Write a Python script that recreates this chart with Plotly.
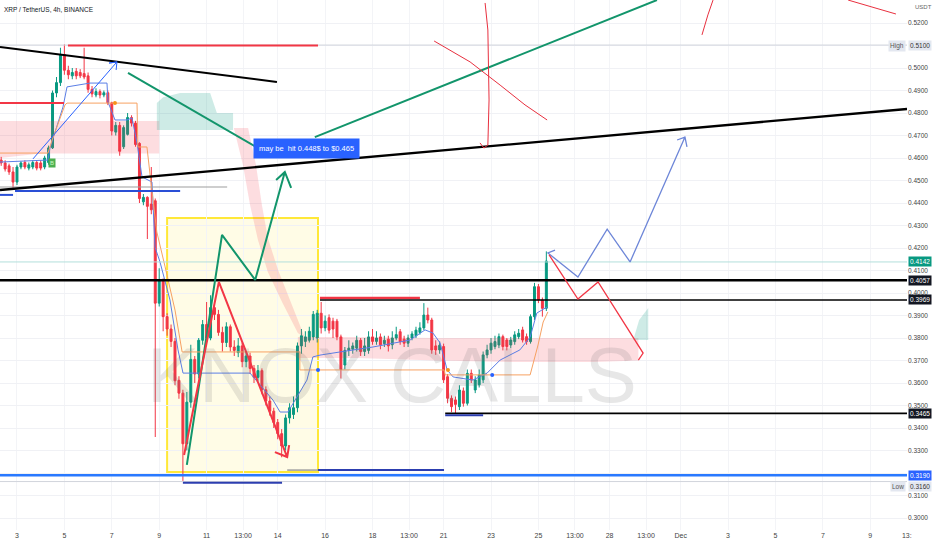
import plotly.graph_objects as go

# ---------------- candle data (4h candles, index 0 = Nov 2 08:00) ----------------
opens = [
    .4591, .4578, .4565, .4538, .4493, .4560, .4580, .4555, .4560, .4580,
    .4578, .4560, .4580, .4645, .4889, .4935, .5060, .4990, .4965, .4985,
    .4980, .4975, .4965, .4905, .4880, .4895, .4880, .4890, .4845, .4715,
    .4745, .4650, .4705, .4780, .4755, .4665, .4405, .4425, .4395, .4410,
    .3955, .4055, .3895, .3840, .3785, .3612, .3555, .3330, .3515, .3705,
    .3640, .3790, .3860, .3800, .3935, .3905, .3825, .3780, .3850, .3760,
    .3735, .3765, .3695, .3720, .3665, .3625, .3655, .3570, .3520, .3475,
    .3425, .3375, .3320, .3445, .3460, .3490, .3765, .3785, .3790, .3805,
    .3800, .3910, .3845, .3890, .3875, .3875, .3805, .3680, .3745, .3750,
    .3755, .3790, .3740, .3745, .3805, .3785, .3805, .3775, .3795, .3770,
    .3800, .3828, .3795, .3777, .3800, .3810, .3825, .3845, .3902, .3880,
    .3765, .3747, .3762, .3628, .3532, .3525, .3495, .3565, .3510, .3643,
    .3569, .3592, .3614, .3725, .3747, .3762, .3769, .3806, .3791, .3769,
    .3784, .3806, .3836, .3806, .3784, .3895, .4028, .3969, .3932]
highs = [
    .4605, .4590, .4575, .4560, .4570, .4585, .4590, .4580, .4590, .4590,
    .4590, .4610, .4655, .4900, .4960, .5090, .5105, .5010, .5000, .5000,
    .4995, .5090, .4980, .4920, .4910, .4905, .4900, .4900, .4850, .4760,
    .4760, .4745, .4800, .4790, .4765, .4670, .4440, .4430, .4560, .4420,
    .4110, .4065, .3910, .3860, .3800, .3630, .3570, .3560, .3770, .3720,
    .3800, .3880, .3960, .3990, .3950, .3925, .3850, .3870, .3860, .3790,
    .3800, .3780, .3740, .3735, .3680, .3680, .3665, .3585, .3540, .3490,
    .3440, .3395, .3460, .3510, .3540, .3780, .3840, .3830, .3850, .3920,
    .3925, .3960, .3900, .3905, .3890, .3885, .3815, .3760, .3790, .3780,
    .3810, .3800, .3800, .3830, .3840, .3830, .3820, .3810, .3810, .3830,
    .3850, .3840, .3810, .3815, .3830, .3850, .3870, .3955, .3935, .3890,
    .3790, .3785, .3775, .3640, .3545, .3540, .3590, .3580, .3660, .3660,
    .3630, .3660, .3740, .3770, .3800, .3810, .3820, .3815, .3800, .3805,
    .3830, .3840, .3850, .3820, .3905, .4045, .4040, .3980, .4185]
lows = [
    .4565, .4540, .4525, .4467, .4480, .4550, .4550, .4545, .4550, .4545,
    .4545, .4550, .4570, .4640, .4870, .4920, .4970, .4950, .4950, .4950,
    .4955, .4950, .4890, .4870, .4870, .4865, .4870, .4835, .4700, .4700,
    .4610, .4640, .4700, .4740, .4650, .4400, .4390, .4240, .4350, .3360,
    .3940, .3830, .3810, .3760, .3590, .3530, .3165, .3300, .3490, .3600,
    .3620, .3770, .3790, .3790, .3880, .3810, .3740, .3760, .3740, .3720,
    .3715, .3670, .3670, .3640, .3600, .3610, .3550, .3500, .3455, .3400,
    .3350, .3270, .3300, .3420, .3440, .3470, .3730, .3760, .3780, .3790,
    .3780, .3820, .3830, .3820, .3800, .3790, .3620, .3660, .3720, .3730,
    .3740, .3720, .3720, .3730, .3770, .3770, .3750, .3760, .3740, .3750,
    .3790, .3770, .3760, .3760, .3790, .3800, .3815, .3835, .3865, .3730,
    .3725, .3730, .3600, .3510, .3470, .3465, .3480, .3495, .3500, .3600,
    .3555, .3580, .3600, .3710, .3730, .3750, .3755, .3745, .3745, .3755,
    .3770, .3795, .3780, .3770, .3775, .3880, .3955, .3895, .3920]
closes = [
    .4578, .4551, .4538, .4493, .4560, .4578, .4560, .4570, .4580, .4555,
    .4555, .4600, .4645, .4889, .4935, .5060, .4990, .4970, .4980, .4965,
    .4965, .4960, .4905, .4885, .4895, .4880, .4890, .4845, .4720, .4745,
    .4630, .4735, .4780, .4755, .4660, .4420, .4425, .4385, .4370, .3955,
    .4055, .3895, .3840, .3785, .3610, .3555, .3330, .3515, .3705, .3640,
    .3790, .3860, .3800, .3935, .3905, .3825, .3780, .3850, .3760, .3745,
    .3765, .3695, .3720, .3665, .3625, .3655, .3570, .3520, .3475, .3425,
    .3375, .3320, .3445, .3490, .3490, .3765, .3810, .3805, .3830, .3905,
    .3910, .3845, .3875, .3835, .3840, .3805, .3660, .3745, .3755, .3765,
    .3790, .3740, .3765, .3805, .3785, .3800, .3770, .3790, .3765, .3800,
    .3815, .3784, .3777, .3800, .3818, .3835, .3845, .3902, .3880, .3747,
    .3747, .3768, .3614, .3532, .3495, .3505, .3569, .3510, .3643, .3614,
    .3614, .3636, .3725, .3747, .3777, .3784, .3806, .3762, .3762, .3791,
    .3814, .3821, .3791, .3784, .3895, .4028, .3969, .3932, .4142]
candle_idx = list(range(len(opens)))

# ---------------- axis ticks ----------------
time_tick_pos = [4, 16, 28, 40, 52, 61.25, 70, 82, 94, 103.25, 112, 124, 136,
                 145.25, 154, 163.25, 172, 184, 196, 208, 220, 229.25]
time_tick_text = ["3", "5", "7", "9", "11", "13:00", "14", "16", "18", "13:00", "21",
                  "23", "25", "13:00", "28", "13:00", "Dec", "3", "5", "7", "9", "13:"]
price_ticks = [0.30, 0.31, 0.32, 0.33, 0.34, 0.35, 0.36, 0.37, 0.38, 0.39, 0.40, 0.41,
               0.42, 0.43, 0.44, 0.45, 0.46, 0.47, 0.48, 0.49, 0.50, 0.51, 0.52]
price_tick_text = ["0.3000", "0.3100", "", "0.3300", "0.3400", "0.3500", "0.3600",
                   "0.3700", "0.3800", "0.3900", "0.4000", "0.4100", "0.4200", "0.4300",
                   "0.4400", "0.4500", "0.4600", "0.4700", "0.4800", "0.4900", "0.5000",
                   "", "0.5200"]

# ---------------- ichimoku-like lines ----------------
conv_idx = [-0.3, 11.85, 12.35, 15.65, 16.66, 22.48, 26.78, 27.04, 28.81, 31.85, 33.11,
            34.38, 35.65, 38.18, 38.94, 40.2, 42.73, 44.76, 46.03, 62.99, 68.8, 70.6,
            72.6, 77.4, 78.9, 80.7, 85.8, 94.1, 103.5, 107.3, 109.3, 111.1, 112.9,
            114.4, 119.4, 123.0, 126.3, 131.3, 133.9, 135.6, 138.2]
conv_val = [0.4582, 0.4591, 0.4644, 0.4827, 0.4916, 0.4933, 0.4933, 0.4849, 0.4769, 0.4769,
            0.4778, 0.4667, 0.4516, 0.4493, 0.4204, 0.4138, 0.3969, 0.3747, 0.3644, 0.3644,
            0.3524, 0.3471, 0.3471, 0.3613, 0.3716, 0.3724, 0.3738, 0.3760, 0.3791, 0.3836,
            0.3822, 0.3778, 0.3658, 0.3627, 0.3613, 0.3644, 0.3702, 0.3747, 0.3804, 0.3911,
            0.3938]
base_idx = [-0.3, 11.85, 12.9, 16.15, 16.66, 34.38, 34.6, 36.9, 37.7, 39.4, 41.5, 44.0,
            45.8, 75.6, 75.6, 112.1, 112.4, 133.9, 135.9, 137.2, 138.4]
base_val = [0.4622, 0.4622, 0.4680, 0.4836, 0.4844, 0.4844, 0.4649, 0.4649, 0.4524, 0.4271,
            0.4116, 0.3924, 0.3738, 0.3738, 0.3658, 0.3658, 0.3636, 0.3636, 0.3769, 0.3871,
            0.3916]

# cloud areas
pink1_idx = [-0.3, 10, 25, 40]
pink1_top = [0.4764, 0.4764, 0.4764, 0.4764]
pink1_bot = [0.4600, 0.4620, 0.4620, 0.4620]
green1_idx = [39.4, 41, 45.3, 52.9, 54.6, 58.7]
green1_top = [0.4844, 0.4870, 0.4889, 0.4889, 0.4800, 0.4800]
green1_bot = [0.4724, 0.4724, 0.4724, 0.4724, 0.4724, 0.4724]
pink2_idx = [58.9, 61.2, 63.0, 65.0, 67.5, 71.1, 75.1, 76.9, 73.1, 70.1, 67.5, 66.0, 64.5, 62.5]
pink2_val = [0.4733, 0.4569, 0.4391, 0.4236, 0.4093, 0.3960, 0.3822, 0.3800, 0.3969, 0.4102,
             0.4244, 0.4391, 0.4569, 0.4733]
pink3_idx = [75.1, 90, 110, 130, 150, 161.3]
pink3_top = [0.3804, 0.3804, 0.3800, 0.3800, 0.3800, 0.3800]
pink3_bot = [0.3711, 0.3711, 0.3700, 0.3693, 0.3693, 0.3700]
green2_idx = [160, 163.8, 163.8, 161.5]
green2_val = [0.3791, 0.3791, 0.3933, 0.3880]

# ---------------- drawings (index, price) ----------------
lvl_price = [0.5102, 0.3162, 0.4138,
             0.4057, 0.3969, 0.3978, 0.3465, 0.3457, 0.3190, 0.3157, 0.3213, 0.3213,
             0.5100, 0.4844, 0.4453, 0.4436, 0.4471]
lvl_from = [-0.3, -0.3, -0.3,
            -0.3, 80.7, 80.7, 112.4, 112.4, -0.3, 46.0, 80.2, 72.4,
            16.9, -0.3, 3.5, -0.3, -0.3]
lvl_to = [229.3, 229.3, 229.3,
          229.3, 229.3, 106.0, 229.3, 122.0, 229.3, 71.1, 112.1, 80.2,
          80.2, 15.9, 45.3, 3.0, 57.2]
lvl_color = ["#d1d4dc", "#d1d4dc", "#b2dfdb",
             "#000000", "#000000", "#f23645", "#000000", "#2c3eb0", "#2979ff",
             "#2c3eb0", "#2c3eb0", "#9e9e9e", "#f23645", "#f23645", "#2a4fd6", "#2a4fd6",
             "#9e9e9e"]
lvl_width = [1, 1, 1,
             2.6, 1.6, 2.2, 1.6, 2, 2.4, 2, 2, 1.5, 2, 2, 2, 2, 1.2]

trend_down_idx = [-0.3, 69.8]
trend_down_val = [0.5093, 0.4938]
trend_up_idx = [-0.3, 229.3]
trend_up_val = [0.4458, 0.4818]
blue_arrow_idx = [8.05, 29.3, 27.3, 29.3, 29.1]
blue_arrow_val = [0.4596, 0.5027, 0.5022, 0.5027, 0.4991]
green_line_idx = [32.1, 65.0]
green_line_val = [0.4978, 0.4644]
green_long_idx = [79.4, 166.0]
green_long_val = [0.4693, 0.5302]
redx1_idx = [109.6, 118.7, 126.3, 132.6, 138.2]
redx1_val = [0.5120, 0.5027, 0.4924, 0.4836, 0.4769]
redx2_idx = [122.5, 123.2, 123.5, 123.2, 122.2, 121.2]
redx2_val = [0.5289, 0.5169, 0.4858, 0.4658, 0.4644, 0.4667]
redc1_idx = [180.2, 178.9, 177.4]
redc1_val = [0.5302, 0.5236, 0.5147]
redc2_idx = [214.4, 218.7, 222.5, 226.5]
redc2_val = [0.5302, 0.5280, 0.5258, 0.5240]
gzig_idx = [47.0, 55.9, 64.3, 71.8, 69.6, 71.8, 73.4]
gzig_val = [0.3236, 0.4258, 0.4058, 0.4538, 0.4502, 0.4538, 0.4467]
rzig_idx = [46.3, 55.1, 72.4, 69.3, 72.4, 72.9]
rzig_val = [0.3280, 0.4049, 0.3271, 0.3293, 0.3271, 0.3324]
bzig_idx = [140.2, 138.4, 146.0, 153.4, 159.2, 173.1, 171.1, 173.1, 173.6]
bzig_val = [0.4191, 0.4178, 0.4071, 0.4284, 0.4138, 0.4693, 0.4680, 0.4693, 0.4649]
rzig2_idx = [138.7, 146.0, 151.1, 162.5, 161.0, 162.5, 161.3]
rzig2_val = [0.4169, 0.3973, 0.4049, 0.3733, 0.3769, 0.3733, 0.3702]
box_idx = [42.0, 80.2]
box_val = [0.3204, 0.4333]
dot_idx = [80.2, 124.3, 113.1, 28.8]
dot_val = [0.3658, 0.3636, 0.3658, 0.4844]
dot_color = ["#2962ff", "#2962ff", "#f7931a", "#f7931a"]

tag_price = [0.4142, 0.4057, 0.3969, 0.3465, 0.3190]
tag_bg = ["#089981", "#131722", "#131722", "#131722", "#2962ff"]

fig = go.Figure()


def poly(xs, ys, color, width):
    fig.add_trace(go.Scatter(x=xs, y=ys, mode="lines", line=dict(color=color, width=width),
                             hoverinfo="skip", showlegend=False))


def band(xs, top, bot, color):
    fig.add_trace(go.Scatter(x=xs + xs[::-1], y=top + bot[::-1], mode="lines", fill="toself",
                             fillcolor=color, line=dict(width=0), hoverinfo="skip",
                             showlegend=False))


band(pink1_idx, pink1_top, pink1_bot, "rgba(242,54,69,0.17)")
band(green1_idx, green1_top, green1_bot, "rgba(8,153,129,0.2)")
fig.add_trace(go.Scatter(x=pink2_idx, y=pink2_val, mode="lines", fill="toself",
                         fillcolor="rgba(242,54,69,0.17)", line=dict(width=0),
                         hoverinfo="skip", showlegend=False))
band(pink3_idx, pink3_top, pink3_bot, "rgba(242,54,69,0.17)")
fig.add_trace(go.Scatter(x=green2_idx, y=green2_val, mode="lines", fill="toself",
                         fillcolor="rgba(8,153,129,0.2)", line=dict(width=0),
                         hoverinfo="skip", showlegend=False))

# yellow box
fig.add_shape(type="rect", x0=box_idx[0], x1=box_idx[1], y0=box_val[0], y1=box_val[1],
              fillcolor="rgba(255,235,59,0.13)", line=dict(color="#ffe838", width=2),
              layer="below")

poly(conv_idx, conv_val, "#5b7ee6", 1)
poly(base_idx, base_val, "#f7a162", 1)

for p, a, b, c, w in zip(lvl_price, lvl_from, lvl_to, lvl_color, lvl_width):
    poly([a, b], [p, p], c, w)

fig.add_trace(go.Candlestick(
    x=candle_idx, open=opens, high=highs, low=lows, close=closes,
    increasing=dict(line=dict(color="#089981", width=1), fillcolor="#089981"),
    decreasing=dict(line=dict(color="#f23645", width=1), fillcolor="#f23645"),
    whiskerwidth=0, hoverinfo="skip", showlegend=False))

poly(trend_down_idx, trend_down_val, "#000000", 2)
poly(trend_up_idx, trend_up_val, "#000000", 2.4)
poly(blue_arrow_idx, blue_arrow_val, "#2962ff", 1)
poly(green_line_idx, green_line_val, "#12956b", 2)
poly(green_long_idx, green_long_val, "#12956b", 2)
poly(redx1_idx, redx1_val, "#e8303f", 1)
poly(redx2_idx, redx2_val, "#e8303f", 1)
poly(redc1_idx, redc1_val, "#e8303f", 1)
poly(redc2_idx, redc2_val, "#e8303f", 1)
poly(gzig_idx, gzig_val, "#12956b", 2)
poly(rzig_idx, rzig_val, "#f23645", 2)
poly(bzig_idx, bzig_val, "#6d86d8", 1.3)
poly(rzig2_idx, rzig2_val, "#f23645", 1.3)

fig.add_trace(go.Scatter(x=dot_idx, y=dot_val, mode="markers",
                         marker=dict(color=dot_color, size=4), hoverinfo="skip",
                         showlegend=False))

# watermark
fig.add_annotation(xref="paper", yref="paper", x=0.432, y=0.292, text="KNOX CALLS",
                   showarrow=False, xanchor="center", yanchor="middle",
                   font=dict(size=78, color="rgba(110,110,110,0.17)",
                             family="Liberation Sans, Arial, sans-serif"))

# B marker
fig.add_annotation(x=12.9, y=0.4578, text="B", showarrow=False, bgcolor="#4caf50",
                   font=dict(size=6, color="#c8f7c5", family="Liberation Sans"), borderpad=1)

# callout label
fig.add_annotation(x=77.2, y=0.4644, text="may be  hit 0.448$ to $0.465", showarrow=False,
                   bgcolor="#2962ff", font=dict(size=7.5, color="white", family="Liberation Sans"),
                   borderpad=5)

# price tags on the right axis
for p, bg in zip(tag_price, tag_bg):
    fig.add_annotation(xref="paper", x=1, xanchor="left", xshift=1, y=p, yref="y",
                       text=f"{p:.4f}", showarrow=False, bgcolor=bg, borderpad=1,
                       font=dict(size=6.5, color="white", family="Liberation Sans"))

for p, label, shift in [(0.5100, "High", 0), (0.3160, "Low", -4)]:
    fig.add_annotation(xref="paper", x=1, xanchor="left", xshift=1, y=p, yref="y",
                       yshift=shift, text=f"{p:.4f}", showarrow=False, bgcolor="#e3e7f0",
                       borderpad=1, font=dict(size=6.5, color="#333", family="Liberation Sans"))
    fig.add_annotation(xref="paper", x=1, xanchor="right", xshift=-1, y=p, yref="y",
                       yshift=shift, text=label, showarrow=False, bgcolor="#e3e7f0",
                       borderpad=1, font=dict(size=6.5, color="#555", family="Liberation Sans"))

fig.add_annotation(xref="paper", yref="paper", x=1, y=1, xanchor="left", yanchor="top",
                   xshift=6, yshift=-2, text="USDT", showarrow=False,
                   font=dict(size=6, color="#666", family="Liberation Sans"))
fig.add_annotation(xref="paper", yref="paper", x=0, y=1, xanchor="left", yanchor="top",
                   xshift=2, yshift=-4, text="XRP / TetherUS, 4h, BINANCE", showarrow=False,
                   font=dict(size=6.5, color="#131722", family="Liberation Sans"))

fig.update_layout(
    width=932, height=550,
    margin=dict(l=0, r=25, t=0, b=20),
    paper_bgcolor="white", plot_bgcolor="white",
    xaxis=dict(range=[-0.3, 229.3], tickvals=time_tick_pos, ticktext=time_tick_text,
               showgrid=True, gridcolor="#f3f4f7", zeroline=False, showline=False,
               rangeslider=dict(visible=False), ticks="",
               tickfont=dict(size=7, color="#444", family="Liberation Sans")),
    yaxis=dict(side="right", range=[0.29467, 0.53022], tickvals=price_ticks,
               ticktext=price_tick_text, showgrid=True, gridcolor="#f0f1f5",
               zeroline=False, showline=False, ticks="",
               tickfont=dict(size=6.5, color="#444", family="Liberation Sans")),
)

fig.write_html("out.html", post_script="document.body.style.margin='0px';",
               config={"displayModeBar": False})
